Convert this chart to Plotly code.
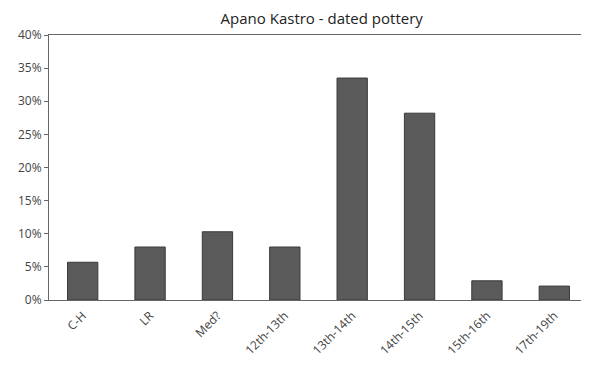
import plotly.graph_objects as go

categories = ["C-H", "LR", "Med?", "12th-13th", "13th-14th", "14th-15th", "15th-16th", "17th-19th"]
values = [0.057, 0.080, 0.103, 0.080, 0.335, 0.282, 0.029, 0.021]
y_ticks = [0, 0.05, 0.10, 0.15, 0.20, 0.25, 0.30, 0.35, 0.40]

fig = go.Figure(go.Bar(
    x=categories, y=values, width=0.45,
    marker=dict(color="#5a5a5a", line=dict(color="#3a3a3a", width=1)),
))
fig.update_layout(
    width=581, height=371,
    margin=dict(l=41, r=1, t=27, b=79),
    paper_bgcolor="white", plot_bgcolor="white",
    title=dict(text="Apano Kastro - dated pottery", x=0.54, xanchor="center", y=0.985, yanchor="top",
               pad=dict(t=0, b=0),
               font=dict(family="Open Sans", size=15, color="#222")),
    font=dict(family="Open Sans", size=12, color="#444"),
    showlegend=False,
    bargap=0.55,
)
fig.update_xaxes(showline=True, linecolor="#666", linewidth=1, mirror=True, tickangle=-45,
                 ticks="outside", ticklen=3, tickcolor="white", showgrid=False, tickfont=dict(size=12))
fig.update_yaxes(range=[0, 0.40], tickvals=y_ticks, tickformat=".0%", showline=True, linecolor="#666",
                 linewidth=1, mirror=True, ticks="outside", ticklen=4, tickcolor="#666", showgrid=False,
                 zeroline=False, tickfont=dict(size=12))
fig.write_html("out.html")
